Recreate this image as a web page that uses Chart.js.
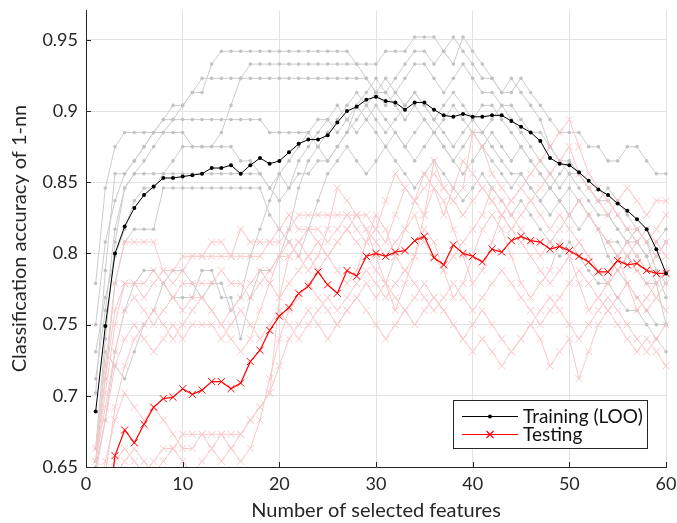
<!DOCTYPE html>
<html>
<head>
<meta charset="utf-8">
<script src="https://cdn.jsdelivr.net/npm/chart.js@4.4.1/dist/chart.umd.min.js"></script>
<style>
  body { margin: 0; background: #fff; }
  #chart { display: block; }
</style>
</head>
<body>
<canvas id="chart" width="677" height="523"></canvas>
<script>
var features = [1,2,3,4,5,6,7,8,9,10,11,12,13,14,15,16,17,18,19,20,
    21,22,23,24,25,26,27,28,29,30,31,32,33,34,35,36,37,38,39,40,
    41,42,43,44,45,46,47,48,49,50,51,52,53,54,55,56,57,58,59,60];
var xTicks = [0, 10, 20, 30, 40, 50, 60];
var yTicks = [0.65, 0.7, 0.75, 0.8, 0.85, 0.9, 0.95];

// mean curves
var trainAcc = [0.689,0.749,0.800,0.819,0.832,0.841,0.847,0.853,0.853,0.854,
    0.855,0.856,0.860,0.860,0.862,0.856,0.862,0.867,0.863,0.865,
    0.871,0.877,0.880,0.880,0.883,0.892,0.900,0.903,0.908,0.910,
    0.907,0.906,0.901,0.906,0.906,0.901,0.897,0.896,0.898,0.896,
    0.896,0.897,0.897,0.893,0.889,0.885,0.879,0.867,0.863,0.862,
    0.857,0.851,0.845,0.841,0.835,0.830,0.824,0.817,0.803,0.786];
var testAcc = [0.560,0.600,0.658,0.676,0.667,0.680,0.692,0.698,0.699,0.705,
    0.701,0.704,0.710,0.710,0.705,0.709,0.724,0.732,0.746,0.756,
    0.762,0.772,0.777,0.787,0.778,0.772,0.788,0.784,0.798,0.800,
    0.798,0.801,0.802,0.809,0.812,0.797,0.792,0.806,0.800,0.798,
    0.794,0.803,0.801,0.809,0.812,0.809,0.808,0.803,0.805,0.802,
    0.798,0.794,0.787,0.787,0.795,0.792,0.793,0.788,0.786,0.786];

// individual runs (training)
var trainRun1 = [0.750,0.808,0.837,0.856,0.865,0.875,0.885,0.894,0.904,0.904,
    0.913,0.913,0.933,0.942,0.942,0.942,0.942,0.942,0.942,0.942,
    0.942,0.942,0.942,0.942,0.942,0.942,0.942,0.933,0.923,0.913,
    0.913,0.923,0.933,0.942,0.942,0.933,0.942,0.952,0.942,0.933,
    0.923,0.923,0.913,0.913,0.923,0.913,0.904,0.894,0.885,0.885,
    0.885,0.875,0.875,0.865,0.865,0.875,0.875,0.865,0.856,0.856];
var trainRun2 = [0.731,0.769,0.798,0.817,0.837,0.846,0.846,0.856,0.865,0.875,
    0.875,0.875,0.875,0.885,0.904,0.923,0.933,0.933,0.933,0.933,
    0.933,0.933,0.933,0.933,0.933,0.933,0.933,0.933,0.933,0.933,
    0.942,0.942,0.942,0.952,0.952,0.952,0.942,0.933,0.952,0.942,
    0.933,0.923,0.913,0.923,0.913,0.904,0.894,0.875,0.865,0.856,
    0.856,0.846,0.837,0.837,0.827,0.817,0.808,0.798,0.779,0.750];
var trainRun3 = [0.712,0.760,0.817,0.846,0.856,0.865,0.875,0.885,0.894,0.904,
    0.913,0.923,0.923,0.923,0.923,0.923,0.923,0.923,0.923,0.923,
    0.923,0.923,0.923,0.923,0.923,0.923,0.923,0.923,0.923,0.913,
    0.904,0.913,0.923,0.933,0.933,0.923,0.913,0.923,0.933,0.923,
    0.913,0.913,0.904,0.904,0.894,0.885,0.885,0.875,0.865,0.865,
    0.856,0.846,0.837,0.846,0.837,0.827,0.817,0.808,0.788,0.769];
var trainRun4 = [0.702,0.788,0.856,0.856,0.865,0.875,0.885,0.894,0.894,0.894,
    0.894,0.894,0.894,0.894,0.894,0.894,0.894,0.894,0.885,0.885,
    0.885,0.885,0.885,0.875,0.885,0.894,0.904,0.913,0.904,0.913,
    0.923,0.913,0.904,0.913,0.904,0.894,0.904,0.913,0.904,0.894,
    0.885,0.894,0.904,0.894,0.885,0.875,0.865,0.856,0.846,0.856,
    0.846,0.837,0.827,0.827,0.817,0.808,0.808,0.798,0.808,0.817];
var trainRun5 = [0.779,0.846,0.875,0.885,0.885,0.885,0.885,0.885,0.885,0.885,
    0.875,0.875,0.875,0.875,0.875,0.865,0.865,0.856,0.846,0.856,
    0.865,0.875,0.885,0.894,0.894,0.904,0.894,0.885,0.894,0.904,
    0.894,0.885,0.875,0.885,0.894,0.885,0.875,0.865,0.875,0.885,
    0.885,0.875,0.865,0.856,0.856,0.846,0.837,0.827,0.837,0.846,
    0.837,0.827,0.817,0.808,0.808,0.798,0.788,0.779,0.779,0.788];
var trainRun6 = [0.663,0.740,0.808,0.846,0.856,0.856,0.856,0.856,0.856,0.856,
    0.856,0.856,0.856,0.856,0.856,0.856,0.856,0.856,0.846,0.837,
    0.846,0.856,0.856,0.865,0.865,0.875,0.885,0.904,0.894,0.885,
    0.875,0.885,0.875,0.865,0.875,0.885,0.875,0.865,0.856,0.865,
    0.875,0.865,0.856,0.846,0.856,0.846,0.837,0.846,0.837,0.827,
    0.817,0.827,0.817,0.808,0.798,0.808,0.798,0.788,0.788,0.779];
var trainRun7 = [0.654,0.712,0.779,0.808,0.817,0.817,0.817,0.846,0.846,0.846,
    0.846,0.846,0.846,0.846,0.846,0.846,0.846,0.846,0.827,0.817,
    0.808,0.798,0.817,0.837,0.856,0.865,0.875,0.865,0.856,0.865,
    0.875,0.865,0.856,0.846,0.856,0.865,0.856,0.846,0.837,0.846,
    0.856,0.846,0.837,0.827,0.837,0.827,0.817,0.808,0.798,0.808,
    0.798,0.788,0.779,0.779,0.769,0.760,0.760,0.750,0.740,0.731];
var trainRun8 = [0.650,0.683,0.731,0.760,0.779,0.788,0.788,0.779,0.769,0.769,
    0.769,0.788,0.788,0.769,0.769,0.740,0.769,0.788,0.788,0.798,
    0.817,0.846,0.865,0.875,0.865,0.875,0.885,0.894,0.904,0.894,
    0.885,0.894,0.904,0.913,0.904,0.894,0.885,0.875,0.885,0.894,
    0.904,0.904,0.894,0.885,0.875,0.865,0.856,0.846,0.856,0.865,
    0.856,0.846,0.837,0.827,0.817,0.808,0.817,0.808,0.798,0.808];
var trainRun9 = [0.654,0.731,0.721,0.712,0.731,0.750,0.760,0.779,0.788,0.788,
    0.779,0.769,0.779,0.779,0.760,0.769,0.798,0.817,0.837,0.856,
    0.846,0.865,0.875,0.885,0.894,0.885,0.894,0.904,0.913,0.923,
    0.913,0.904,0.894,0.904,0.894,0.885,0.894,0.904,0.894,0.885,
    0.875,0.885,0.875,0.865,0.875,0.865,0.856,0.846,0.837,0.827,
    0.837,0.827,0.817,0.798,0.788,0.779,0.769,0.760,0.750,0.750];

// individual runs (testing)
var testRun1 = [0.663,0.721,0.779,0.808,0.808,0.808,0.808,0.788,0.779,0.788,
    0.798,0.798,0.808,0.808,0.798,0.817,0.808,0.808,0.808,0.808,
    0.817,0.827,0.827,0.827,0.827,0.827,0.827,0.827,0.827,0.817,
    0.808,0.827,0.846,0.837,0.827,0.865,0.846,0.837,0.827,0.837,
    0.846,0.837,0.827,0.817,0.827,0.837,0.846,0.856,0.865,0.875,
    0.856,0.846,0.837,0.827,0.837,0.846,0.837,0.827,0.837,0.837];
var testRun2 = [0.654,0.702,0.750,0.779,0.779,0.769,0.779,0.788,0.788,0.798,
    0.798,0.798,0.798,0.798,0.798,0.798,0.798,0.798,0.808,0.817,
    0.827,0.817,0.817,0.817,0.808,0.817,0.827,0.817,0.808,0.817,
    0.837,0.856,0.846,0.837,0.846,0.856,0.846,0.837,0.846,0.885,
    0.875,0.856,0.846,0.837,0.846,0.856,0.865,0.875,0.885,0.894,
    0.875,0.856,0.846,0.837,0.827,0.817,0.817,0.808,0.817,0.827];
var testRun3 = [0.663,0.712,0.760,0.779,0.779,0.779,0.788,0.779,0.769,0.779,
    0.779,0.779,0.779,0.788,0.779,0.779,0.769,0.779,0.788,0.798,
    0.798,0.808,0.798,0.788,0.798,0.808,0.817,0.808,0.798,0.788,
    0.779,0.798,0.817,0.827,0.808,0.798,0.788,0.798,0.808,0.817,
    0.827,0.846,0.837,0.827,0.817,0.808,0.798,0.808,0.817,0.827,
    0.837,0.827,0.817,0.808,0.798,0.808,0.798,0.788,0.798,0.808];
var testRun4 = [0.654,0.692,0.731,0.760,0.769,0.760,0.750,0.760,0.769,0.760,
    0.769,0.769,0.760,0.750,0.760,0.769,0.779,0.788,0.779,0.769,
    0.779,0.788,0.798,0.808,0.798,0.788,0.779,0.788,0.808,0.827,
    0.817,0.798,0.788,0.798,0.827,0.846,0.837,0.817,0.798,0.779,
    0.788,0.808,0.827,0.817,0.808,0.798,0.788,0.779,0.788,0.798,
    0.808,0.798,0.788,0.779,0.788,0.798,0.808,0.817,0.808,0.798];
var testRun5 = [0.645,0.683,0.721,0.740,0.750,0.740,0.731,0.740,0.750,0.740,
    0.750,0.750,0.750,0.740,0.750,0.760,0.750,0.740,0.750,0.760,
    0.750,0.740,0.750,0.760,0.769,0.760,0.769,0.779,0.788,0.779,
    0.769,0.779,0.788,0.779,0.769,0.760,0.769,0.779,0.769,0.760,
    0.769,0.779,0.788,0.779,0.769,0.760,0.750,0.760,0.769,0.779,
    0.788,0.779,0.769,0.760,0.769,0.779,0.769,0.760,0.769,0.779];
var testRun6 = [0.625,0.654,0.683,0.702,0.692,0.683,0.692,0.683,0.673,0.663,
    0.663,0.673,0.673,0.673,0.673,0.673,0.683,0.692,0.702,0.721,
    0.740,0.750,0.760,0.750,0.740,0.750,0.760,0.769,0.760,0.750,
    0.740,0.750,0.760,0.769,0.779,0.769,0.760,0.750,0.740,0.750,
    0.760,0.750,0.740,0.731,0.740,0.750,0.760,0.769,0.760,0.750,
    0.740,0.750,0.760,0.769,0.760,0.750,0.740,0.731,0.740,0.750];
var testRun7 = [0.615,0.635,0.654,0.663,0.654,0.645,0.654,0.663,0.663,0.673,
    0.673,0.673,0.663,0.654,0.663,0.673,0.683,0.692,0.702,0.769,
    0.798,0.808,0.817,0.808,0.798,0.808,0.817,0.827,0.817,0.808,
    0.798,0.808,0.817,0.837,0.856,0.846,0.827,0.846,0.865,0.856,
    0.846,0.837,0.827,0.837,0.846,0.837,0.827,0.817,0.827,0.817,
    0.808,0.798,0.788,0.779,0.788,0.798,0.788,0.779,0.769,0.760];
var testRun8 = [0.596,0.625,0.645,0.654,0.663,0.654,0.645,0.654,0.663,0.654,
    0.645,0.654,0.663,0.673,0.663,0.654,0.663,0.683,0.712,0.740,
    0.760,0.769,0.779,0.769,0.760,0.750,0.760,0.769,0.779,0.769,
    0.779,0.769,0.760,0.750,0.760,0.769,0.760,0.750,0.740,0.731,
    0.740,0.731,0.721,0.731,0.740,0.750,0.740,0.721,0.731,0.740,
    0.712,0.731,0.750,0.760,0.750,0.740,0.731,0.740,0.731,0.721];
var testRun9 = [0.606,0.645,0.692,0.721,0.740,0.750,0.760,0.750,0.740,0.750,
    0.760,0.769,0.760,0.750,0.740,0.731,0.740,0.760,0.779,0.798,
    0.808,0.798,0.788,0.798,0.817,0.846,0.837,0.827,0.817,0.798,
    0.779,0.760,0.779,0.798,0.817,0.808,0.788,0.769,0.779,0.798,
    0.817,0.827,0.817,0.798,0.779,0.769,0.779,0.788,0.808,0.798,
    0.779,0.760,0.769,0.779,0.798,0.779,0.760,0.769,0.779,0.788];

var trainRuns = [trainRun1, trainRun2, trainRun3, trainRun4, trainRun5, trainRun6, trainRun7, trainRun8, trainRun9];
var testRuns = [testRun1, testRun2, testRun3, testRun4, testRun5, testRun6, testRun7, testRun8, testRun9];

function toPoints(vals) {
    return features.map(function (f, i) { return { x: f, y: vals[i] }; });
}

var axisColor = '#262626';
var gridColor = '#e3e3e3';
var fontFamily = 'Lato, "Open Sans", sans-serif';

var datasets = [];
datasets.push({
    label: 'Training (LOO)', data: toPoints(trainAcc),
    borderColor: '#000', backgroundColor: '#000', borderWidth: 1,
    pointStyle: 'circle', pointRadius: 2, pointBorderWidth: 0,
    clip: { left: 0, top: 0, right: 8, bottom: 0 }
});
datasets.push({
    label: 'Testing', data: toPoints(testAcc),
    borderColor: '#ff0000', backgroundColor: '#ff0000', borderWidth: 1.2,
    pointStyle: 'crossRot', pointRadius: 5, pointBorderWidth: 1,
    clip: { left: 0, top: 0, right: 8, bottom: 0 }
});
testRuns.forEach(function (run) {
    datasets.push({
        label: '', data: toPoints(run),
        borderColor: 'rgb(249,200,200)', backgroundColor: 'rgb(249,200,200)', borderWidth: 1,
        pointStyle: 'crossRot', pointRadius: 5, pointBorderWidth: 1,
        clip: { left: 0, top: 0, right: 8, bottom: 0 }
    });
});
trainRuns.forEach(function (run) {
    datasets.push({
        label: '', data: toPoints(run),
        borderColor: 'rgb(204,204,204)', backgroundColor: 'rgb(195,195,195)', borderWidth: 1,
        pointStyle: 'circle', pointRadius: 1.8, pointBorderWidth: 0,
        clip: { left: 0, top: 0, right: 8, bottom: 0 }
    });
});

// inward tick marks + legend box drawn on the canvas
var extras = {
    id: 'extras',
    afterDraw: function (chart) {
        var ctx = chart.ctx, a = chart.chartArea;
        var xs = chart.scales.x, ys = chart.scales.y;
        ctx.save();
        ctx.strokeStyle = axisColor;
        ctx.lineWidth = 1;
        ctx.beginPath();
        yTicks.forEach(function (t) {
            var py = Math.round(ys.getPixelForValue(t)) + 0.5;
            ctx.moveTo(a.left, py); ctx.lineTo(a.left + 5, py);
        });
        xTicks.forEach(function (t) {
            var px = Math.round(xs.getPixelForValue(t)) + 0.5;
            ctx.moveTo(px, a.bottom); ctx.lineTo(px, a.bottom - 5);
        });
        ctx.stroke();

        // legend
        var bx = 453.5, by = 400.5, bw = 194, bh = 48;
        ctx.fillStyle = '#fff';
        ctx.fillRect(bx, by, bw, bh);
        ctx.strokeStyle = axisColor;
        ctx.strokeRect(bx, by, bw, bh);
        var rows = [{ y: 416, ds: datasets[0] }, { y: 434, ds: datasets[1] }];
        rows.forEach(function (r) {
            ctx.strokeStyle = r.ds.borderColor;
            ctx.lineWidth = r.ds.borderWidth;
            ctx.beginPath();
            ctx.moveTo(462, r.y + 0.5); ctx.lineTo(518, r.y + 0.5);
            ctx.stroke();
            if (r.ds.pointStyle === 'circle') {
                ctx.fillStyle = r.ds.borderColor;
                ctx.beginPath(); ctx.arc(490, r.y + 0.5, 2, 0, Math.PI * 2); ctx.fill();
            } else {
                ctx.beginPath();
                ctx.moveTo(486.5, r.y - 3); ctx.lineTo(493.5, r.y + 4);
                ctx.moveTo(493.5, r.y - 3); ctx.lineTo(486.5, r.y + 4);
                ctx.stroke();
            }
            ctx.fillStyle = '#111';
            ctx.font = '19px ' + fontFamily;
            ctx.textBaseline = 'middle';
            ctx.fillText(r.ds.label, 523, r.y + 1);
        });
        ctx.restore();
    }
};

new Chart(document.getElementById('chart'), {
    type: 'line',
    data: { datasets: datasets },
    plugins: [extras],
    options: {
        responsive: false,
        animation: false,
        layout: { padding: { top: 10, right: 11, bottom: 0, left: 0 } },
        plugins: { legend: { display: false }, tooltip: { enabled: false } },
        scales: {
            x: {
                type: 'linear', min: 0, max: 60,
                afterBuildTicks: function (s) { s.ticks = xTicks.map(function (v) { return { value: v }; }); },
                afterFit: function (s) { s.height = 56; s.paddingLeft = 0; s.paddingRight = 0; },
                grid: { color: gridColor, drawTicks: false },
                border: { color: axisColor, width: 1 },
                ticks: { color: '#262626', padding: 6, maxRotation: 0, font: { family: fontFamily, size: 18 } },
                title: { display: true, text: 'Number of selected features', color: '#262626',
                    padding: { top: 0, bottom: 0 }, font: { family: fontFamily, size: 20 } }
            },
            y: {
                type: 'linear', min: 0.65, max: 0.971,
                afterBuildTicks: function (s) { s.ticks = yTicks.map(function (v) { return { value: v }; }); },
                afterFit: function (s) { s.width = 86; s.paddingTop = 0; s.paddingBottom = 0; },
                grid: { color: gridColor, drawTicks: false },
                border: { color: axisColor, width: 1 },
                ticks: { color: '#262626', padding: 8, font: { family: fontFamily, size: 18 },
                    callback: function (v) { return String(Math.round(v * 100) / 100); } },
                title: { display: true, text: 'Classification accuracy of 1-nn', color: '#262626',
                    padding: { top: 8, bottom: 0 }, font: { family: fontFamily, size: 20 } }
            }
        }
    }
});
</script>
</body>
</html>
